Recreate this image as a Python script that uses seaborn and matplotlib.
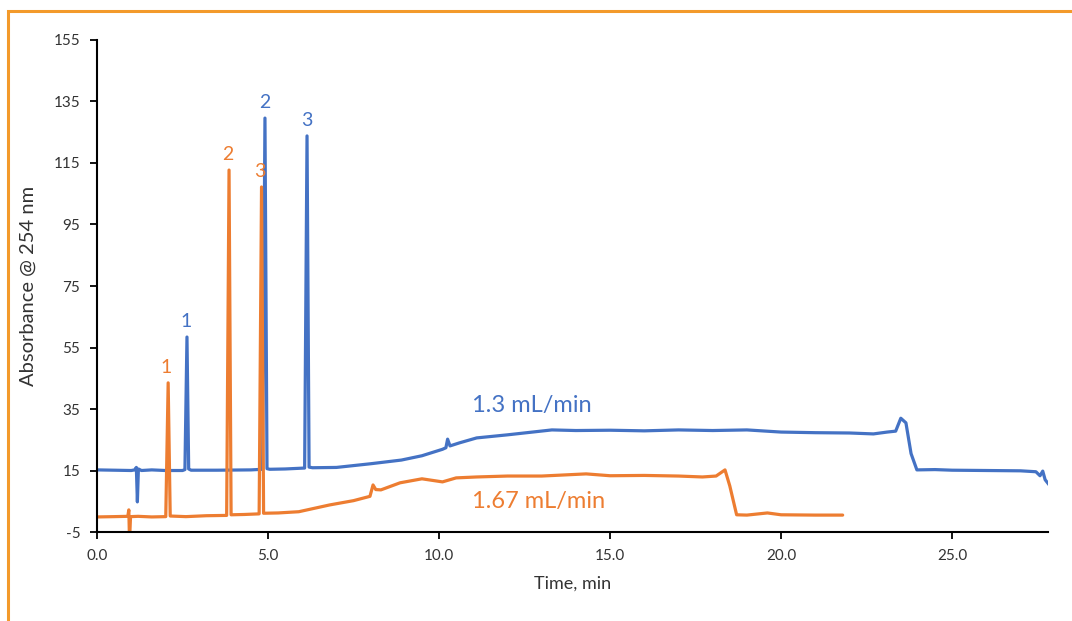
# Imports
import numpy as np
import pandas as pd
import matplotlib
matplotlib.use("Agg")
import matplotlib.pyplot as plt
from matplotlib.patches import Rectangle
import seaborn as sns

# Chromatogram traces (time in min, absorbance)
blueTime = [0.0, 0.5, 1.0, 1.1, 1.15, 1.18, 1.21, 1.3, 1.6, 2.0, 2.5, 2.57, 2.63, 2.68, 2.75, 3.5, 4.5,
            4.84, 4.91, 4.97, 5.05, 5.5, 6.07, 6.14, 6.2, 6.3, 7.0, 8.0, 8.9, 9.5, 10.1, 10.2, 10.25, 10.32,
            10.6, 11.1, 12.0, 13.3, 14.0, 15.0, 16.0, 17.0, 18.0, 19.0, 20.0, 21.0, 22.0, 22.7, 23.1, 23.35,
            23.5, 23.65, 23.8, 23.97, 24.5, 25.0, 26.0, 27.0, 27.45, 27.57, 27.65, 27.72, 27.84]
blueValue = [15.2, 15.1, 15.0, 15.2, 16.0, 4.8, 15.5, 15.0, 15.2, 15.0, 15.0, 15.3, 58.4, 15.5, 15.1, 15.1, 15.2,
             15.4, 129.6, 15.6, 15.4, 15.5, 15.8, 123.8, 16.1, 15.9, 16.0, 17.2, 18.4, 19.8, 21.9, 22.4, 25.2, 23.0,
             24.0, 25.6, 26.6, 28.2, 28.0, 28.1, 27.9, 28.2, 28.0, 28.2, 27.5, 27.3, 27.2, 26.9, 27.5, 27.8,
             32.0, 30.5, 20.5, 15.2, 15.3, 15.1, 15.0, 14.9, 14.6, 13.3, 14.8, 12.0, 10.3]

orangeTime = [0.0, 0.5, 0.9, 0.93, 0.95, 0.98, 1.2, 1.6, 2.01, 2.08, 2.14, 2.6, 3.2, 3.79, 3.86, 3.92, 4.3,
              4.74, 4.81, 4.87, 5.3, 5.9, 6.8, 7.5, 7.98, 8.07, 8.15, 8.3, 8.86, 9.5, 10.1, 10.5, 11.1, 12.0,
              13.0, 14.3, 15.0, 16.0, 17.0, 17.7, 18.1, 18.36, 18.5, 18.7, 19.0, 19.6, 20.0, 21.0, 21.8]
orangeValue = [-0.1, 0.0, 0.1, 2.2, -8.0, 0.0, 0.1, -0.1, 0.0, 43.5, 0.2, 0.0, 0.3, 0.4, 112.7, 0.6, 0.7,
               0.9, 107.2, 1.1, 1.2, 1.6, 3.8, 5.2, 6.6, 10.3, 8.8, 8.7, 11.0, 12.3, 11.3, 12.6, 12.9, 13.2,
               13.2, 13.9, 13.3, 13.4, 13.2, 12.9, 13.2, 15.2, 10.0, 0.6, 0.5, 1.2, 0.6, 0.5, 0.5]

# Peak labels (numbered peaks, label sits just above the apex)
bluePeakTime = [2.63, 4.91, 6.14]
bluePeakHeight = [58.4, 129.6, 123.8]
orangePeakTime = [2.08, 3.86, 4.81]
orangePeakHeight = [43.5, 112.7, 107.2]
peakNames = ["1", "2", "3"]

# Flow rate labels
flowLabels = ["1.3 mL/min", "1.67 mL/min"]
flowLabelTime = [12.7, 12.9]
flowLabelValue = [36.3, 4.8]

# Axis ticks
xTicks = [0, 5, 10, 15, 20, 25]
yTicks = [-5, 15, 35, 55, 75, 95, 115, 135, 155]

BLUE = "#4472C4"
ORANGE = "#ED7D31"
TEXT = "#333333"

sns.set_style("white")
plt.rcParams["font.family"] = ["Lato", "DejaVu Sans"]

fig = plt.figure(figsize = (10.72, 6.21), dpi = 100)
ax = fig.add_axes([0.0905, 0.1433, 0.887, 0.7923])

# Orange frame round the figure
fig.patches.append(Rectangle((0.0075, -0.05), 1.2, 1.032, transform = fig.transFigure,
                             fill = False, edgecolor = "#F39A2B", linewidth = 2.2))

blueDf = pd.DataFrame({"time": blueTime, "absorbance": blueValue})
orangeDf = pd.DataFrame({"time": orangeTime, "absorbance": orangeValue})
sns.lineplot(data = blueDf, x = "time", y = "absorbance", color = BLUE, linewidth = 2.3, estimator = None, ax = ax)
sns.lineplot(data = orangeDf, x = "time", y = "absorbance", color = ORANGE, linewidth = 2.3, estimator = None, ax = ax)

# Peak numbers
for name, t, h in zip(peakNames, bluePeakTime, bluePeakHeight):
    ax.text(t - 0.02, h + 2.3, name, color = BLUE, fontsize = 14, ha = "center", va = "bottom")
for name, t, h in zip(peakNames, orangePeakTime, orangePeakHeight):
    ax.text(t - 0.05, h + 2.3, name, color = ORANGE, fontsize = 14, ha = "center", va = "bottom")

# Flow rate labels
ax.text(flowLabelTime[0], flowLabelValue[0], flowLabels[0], color = BLUE, fontsize = 17, ha = "center", va = "center")
ax.text(flowLabelTime[1], flowLabelValue[1], flowLabels[1], color = ORANGE, fontsize = 17, ha = "center", va = "center")

# Axes styling (Excel look)
ax.set_xlim(0, 27.8)
ax.set_ylim(-5, 155)
ax.set_xticks(xTicks)
ax.set_xticklabels([f"{t:.1f}" for t in xTicks], fontsize = 11, color = TEXT)
ax.set_yticks(yTicks)
ax.set_yticklabels([str(t) for t in yTicks], fontsize = 11, color = TEXT)
ax.tick_params(axis = "both", direction = "out", length = 5, width = 1.3, color = "black", pad = 7, bottom = True, left = True)
for side in ["top", "right"]:
    ax.spines[side].set_visible(False)
for side in ["left", "bottom"]:
    ax.spines[side].set_color("black")
    ax.spines[side].set_linewidth(1.5)
ax.grid(False)

ax.set_xlabel("Time, min", fontsize = 13, labelpad = 9, color = TEXT)
ax.set_ylabel("Absorbance @ 254 nm", fontsize = 14.5, labelpad = 12, color = TEXT)

# Save the Graph
fig.savefig("out.png", dpi = 100)
plt.close(fig)
